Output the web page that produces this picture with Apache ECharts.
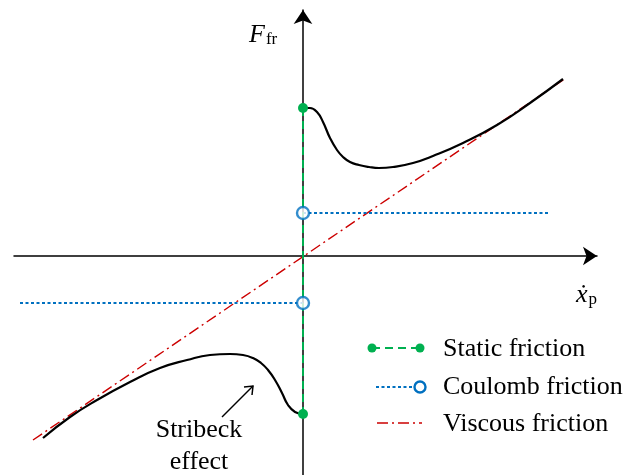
<!DOCTYPE html>
<html>
<head>
<meta charset="utf-8">
<script src="https://cdn.jsdelivr.net/npm/echarts@6/dist/echarts.min.js"></script>
<style>
  html, body { margin: 0; padding: 0; background: #fff; }
  #chart { width: 630px; height: 475px; }
</style>
</head>
<body>
<div id="chart"></div>
<script>
// Friction force F_fr versus velocity (arbitrary units, origin at zero velocity)
const staticLevels = [148, -158];              // break-away force at v = 0 (+ / -)
const coulombPosX = [0, 247];
const coulombPos = 43;
const coulombNegX = [-283, 0];
const coulombNeg = -47;
const viscousX = [-270, 263];
const viscousY = [-184, 178];
const stribeckPosX = [0, 7, 14, 20, 27, 34, 40, 47, 56, 66, 76, 90, 110, 130, 160, 194, 227, 260];
const stribeckPosY = [148, 148, 144, 134, 118, 106, 99, 94, 91, 89, 88, 89, 93, 100, 113, 131, 153, 177];
const stribeckNegX = [0, -8, -15, -21, -28, -35, -42, -50, -60, -73, -93, -116, -143, -173, -206, -233, -260];
const stribeckNegY = [-158, -156, -149, -137, -124, -114, -107, -102, -99, -98, -99, -104, -112, -126, -144, -161, -182];

const GREEN = '#00b050';
const BLUE = '#0070c0';
const RED = '#cc0000';
const SERIF = '"Liberation Serif", "Times New Roman", "DejaVu Serif", serif';

const zip = (xs, ys) => xs.map((x, i) => [x, ys[i]]);

const chart = echarts.init(document.getElementById('chart'));

chart.setOption({
  animation: false,
  backgroundColor: '#ffffff',
  grid: { left: 14, top: 10, width: 583, height: 465, containLabel: false },
  xAxis: {
    type: 'value', min: -289, max: 294,
    axisLine: { onZero: true, symbol: ['none', 'arrow'], symbolSize: [14, 14],
      lineStyle: { color: '#000', width: 1.5 } },
    axisTick: { show: false }, axisLabel: { show: false }, splitLine: { show: false }
  },
  yAxis: {
    type: 'value', min: -219, max: 246,
    axisLine: { onZero: true, symbol: ['none', 'arrow'], symbolSize: [14, 14],
      lineStyle: { color: '#000', width: 1.5 } },
    axisTick: { show: false }, axisLabel: { show: false }, splitLine: { show: false }
  },
  series: [
    {
      name: 'Viscous friction', type: 'line', data: zip(viscousX, viscousY),
      showSymbol: false, symbol: 'none', z: 2,
      lineStyle: { color: RED, width: 1.4, type: [11, 4, 2, 4] }
    },
    {
      name: 'Coulomb friction', type: 'line',
      data: coulombPosX.map(x => [x, coulombPos]),
      symbol: 'none', z: 3,
      lineStyle: { color: BLUE, width: 2, type: [3, 2.5] }
    },
    {
      name: 'Coulomb friction', type: 'line',
      data: coulombNegX.map(x => [x, coulombNeg]),
      symbol: 'none', z: 3,
      lineStyle: { color: BLUE, width: 2, type: [3, 2.5] }
    },
    {
      name: 'Stribeck +', type: 'line', data: zip(stribeckPosX, stribeckPosY),
      symbol: 'none', smooth: 0.5, z: 4,
      lineStyle: { color: '#000', width: 2.2 }
    },
    {
      name: 'Stribeck -', type: 'line', data: zip(stribeckNegX, stribeckNegY),
      symbol: 'none', smooth: 0.5, z: 4,
      lineStyle: { color: '#000', width: 2.2 }
    },
    {
      name: 'Static friction', type: 'line',
      data: staticLevels.map(y => [0, y]),
      symbol: 'circle', symbolSize: 10, showAllSymbol: true, z: 5,
      itemStyle: { color: GREEN },
      lineStyle: { color: GREEN, width: 2, type: [8, 5] }
    },
    {
      name: 'Coulomb points', type: 'scatter',
      data: [[0, coulombPos], [0, coulombNeg]],
      symbol: 'circle', symbolSize: 12, z: 6,
      itemStyle: { color: '#fff', borderColor: BLUE, borderWidth: 2.4 }
    }
  ],
  graphic: [
    // axis titles
    {
      type: 'text', left: 249, top: 22, z: 10,
      style: {
        text: '{f|F}{s|fr}',
        rich: {
          f: { fontFamily: SERIF, fontStyle: 'italic', fontSize: 26, fill: '#000', verticalAlign: 'bottom' },
          s: { fontFamily: SERIF, fontSize: 17, fill: '#000', padding: [0, 0, 0, 1], verticalAlign: 'bottom' }
        }
      }
    },
    {
      type: 'text', left: 576, top: 282, z: 10,
      style: {
        text: '{x|ẋ}{s|p}',
        rich: {
          x: { fontFamily: SERIF, fontStyle: 'italic', fontSize: 26, fill: '#000', verticalAlign: 'bottom' },
          s: { fontFamily: SERIF, fontSize: 17, fill: '#000', padding: [0, 0, 0, 1], verticalAlign: 'bottom' }
        }
      }
    },
    // Stribeck annotation
    {
      type: 'polyline', z: 10,
      shape: { points: [[222, 417], [253, 386]] },
      style: { stroke: '#000', lineWidth: 1.5, fill: null }
    },
    {
      type: 'polyline', z: 10,
      shape: { points: [[244, 387], [253, 386], [252, 395]] },
      style: { stroke: '#000', lineWidth: 1.5, fill: null }
    },
    {
      type: 'text', x: 199, y: 430, z: 10,
      style: { text: 'Stribeck', fontFamily: SERIF, fontSize: 26, fill: '#000', align: 'center', verticalAlign: 'middle' }
    },
    {
      type: 'text', x: 199, y: 462, z: 10,
      style: { text: 'effect', fontFamily: SERIF, fontSize: 26, fill: '#000', align: 'center', verticalAlign: 'middle' }
    },
    // legend: static friction
    {
      type: 'line', z: 10,
      shape: { x1: 372, y1: 348, x2: 420, y2: 348 },
      style: { stroke: GREEN, lineWidth: 2, lineDash: [8, 5] }
    },
    { type: 'circle', z: 11, shape: { cx: 372, cy: 348, r: 4.5 }, style: { fill: GREEN } },
    { type: 'circle', z: 11, shape: { cx: 420, cy: 348, r: 4.5 }, style: { fill: GREEN } },
    {
      type: 'text', x: 443, y: 349, z: 10,
      style: { text: 'Static friction', fontFamily: SERIF, fontSize: 26, fill: '#000', verticalAlign: 'middle' }
    },
    // legend: coulomb friction
    {
      type: 'line', z: 10,
      shape: { x1: 376, y1: 387, x2: 414, y2: 387 },
      style: { stroke: BLUE, lineWidth: 2, lineDash: [3, 2.5] }
    },
    { type: 'circle', z: 11, shape: { cx: 420, cy: 387, r: 5.5 }, style: { fill: '#fff', stroke: BLUE, lineWidth: 2.4 } },
    {
      type: 'text', x: 443, y: 387, z: 10,
      style: { text: 'Coulomb friction', fontFamily: SERIF, fontSize: 26, fill: '#000', verticalAlign: 'middle' }
    },
    // legend: viscous friction
    {
      type: 'line', z: 10,
      shape: { x1: 373, y1: 423, x2: 422, y2: 423 },
      style: { stroke: RED, lineWidth: 1.4, lineDash: [11, 4, 2, 4], lineDashOffset: 17 }
    },
    {
      type: 'text', x: 443, y: 424, z: 10,
      style: { text: 'Viscous friction', fontFamily: SERIF, fontSize: 26, fill: '#000', verticalAlign: 'middle' }
    }
  ]
});
</script>
</body>
</html>
